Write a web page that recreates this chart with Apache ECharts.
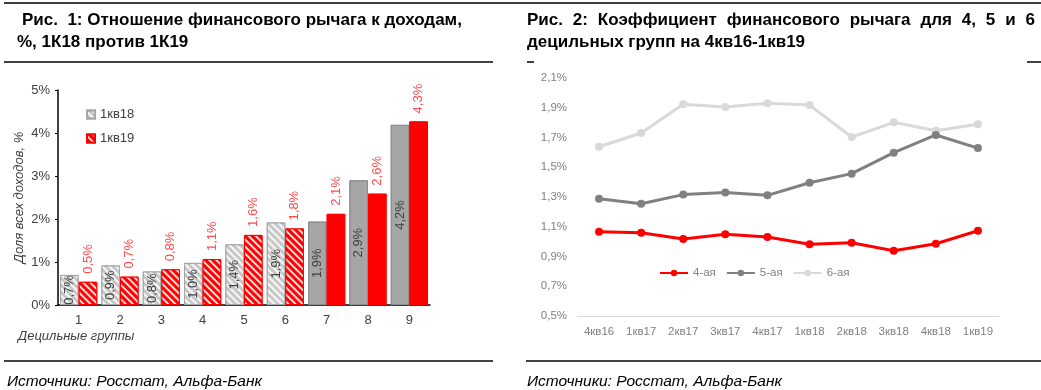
<!DOCTYPE html>
<html><head><meta charset="utf-8">
<script src="https://cdn.jsdelivr.net/npm/echarts@6/dist/echarts.min.js"></script>
<style>html,body{margin:0;padding:0;background:#fff}#c{width:1041px;height:390px}</style>
</head><body><div id="c"></div>
<script>
// ---- data ----
const deciles = ['1','2','3','4','5','6','7','8','9'];
const q1_18 = [0.70,0.92,0.78,0.98,1.41,1.92,1.94,2.90,4.19];
const q1_19 = [0.54,0.66,0.83,1.07,1.63,1.78,2.12,2.59,4.27];
const quarters = ['4кв16','1кв17','2кв17','3кв17','4кв17','1кв18','2кв18','3кв18','4кв18','1кв19'];
const dec4 = [1.067,1.060,1.018,1.049,1.031,0.982,0.993,0.939,0.986,1.073];
const dec5 = [1.289,1.255,1.316,1.331,1.311,1.396,1.457,1.598,1.717,1.629];
const dec6 = [1.638,1.730,1.923,1.905,1.930,1.918,1.703,1.802,1.746,1.789];
const title1a = 'Рис.  1: Отношение финансового рычага к доходам,';
const title1b = '%, 1К18 против 1К19';
const title2a = 'Рис. 2: Коэффициент финансового рычага для 4, 5 и 6';
const title2b = 'децильных групп на 4кв16-1кв19';
const source = 'Источники: Росстат, Альфа-Банк';

const FONT = '"Liberation Sans", Arial, sans-serif';
const ctx = document.createElement('canvas').getContext('2d');
function w(t, f){ ctx.font = f; return ctx.measureText(t).width; }
let ts = 16;
for (let s = 14; s <= 20; s += 0.25){ if (w(title1a, 'bold '+s+'px '+FONT) <= 445) ts = s; }
const tFont = 'bold '+ts+'px '+FONT;
const sFont = 'italic 15.5px '+FONT;

const fmt = v => v.toFixed(1).replace('.', ',') + '%';
const hatch = {symbol:'rect', symbolSize:1, dashArrayX:[1,0], dashArrayY:[2,2.5], rotation:Math.PI/4, color:'rgba(255,255,255,0.85)'};
const noHatch = {symbol:'rect', symbolSize:1, dashArrayX:[1,0], dashArrayY:[2,2.5], rotation:Math.PI/4, color:'rgba(255,255,255,0)'};

const graphics = [];
function line(x1,y1,x2,y2,lw){ graphics.push({type:'line', shape:{x1,y1,x2,y2}, style:{stroke:'#000', lineWidth:lw||1.5}, silent:true}); }
function text(t,x,y,font,fill){ graphics.push({type:'text', x, y, style:{text:t, font, fill:fill||'#000', textVerticalAlign:'middle', textAlign:'left'}, silent:true}); }
line(4,3,1041,3);
line(4,62,493,62);
line(527,62,534,62); line(1027,62,1041,62);
line(4,361,493,361); line(526,361,1041,361);
text(title1a, 22, 20, tFont);
text(title1b, 17, 42, tFont);
(function(){
  const words = title2a.split(' ');
  const total = words.reduce((a,b)=>a+w(b,tFont),0);
  const gap = (1035-527-total)/(words.length-1);
  let x = 527;
  words.forEach(wd => { text(wd, x, 20, tFont); x += w(wd,tFont)+gap; });
})();
text(title2b, 527, 42, tFont);
text(source, 7, 382, sFont);
text(source, 527, 382, sFont);
text('Децильные группы', 18, 336, 'italic 13px '+FONT, '#404040');

const axisTxt = {color:'#404040', fontSize:13, fontFamily:FONT};
const rTxt = {color:'#808080', fontSize:11.5, fontFamily:FONT};

const option = {
  animation:false,
  backgroundColor:'#fff',
  graphic: graphics,
  legend:[
    {data:['1кв18','1кв19'], orient:'vertical', left:86, top:108, padding:0, itemWidth:8, itemHeight:8, itemGap:11, textStyle:{color:'#404040', fontSize:13, fontFamily:FONT}, icon:'rect'},
    {data:['4-ая','5-ая','6-ая'], left:659, top:267, padding:0, itemWidth:28, itemHeight:8, itemGap:10, textStyle:{color:'#808080', fontSize:11.5, fontFamily:FONT}}
  ],
  grid:[
    {left:58, top:90, width:372, height:215},
    {left:578, top:78, width:421, height:238}
  ],
  xAxis:[
    {gridIndex:0, type:'category', data:deciles, axisLine:{lineStyle:{color:'#000', width:1.5}}, axisTick:{show:false}, axisLabel:Object.assign({margin:9}, axisTxt)},
    {gridIndex:1, type:'category', data:quarters, axisLine:{lineStyle:{color:'#d9d9d9', width:1}}, axisTick:{show:false}, axisLabel:Object.assign({margin:10}, rTxt)}
  ],
  yAxis:[
    {gridIndex:0, type:'value', min:0, max:5, interval:1, axisLine:{show:true, lineStyle:{color:'#000', width:1.5}}, axisTick:{show:true, length:3, lineStyle:{color:'#000'}}, splitLine:{show:false},
     axisLabel:Object.assign({margin:8, formatter:v=>v+'%'}, axisTxt),
     name:'Доля всех доходов, %', nameLocation:'middle', nameGap:32, nameRotate:90, nameTextStyle:{fontStyle:'italic', color:'#404040', fontSize:13, fontFamily:FONT}},
    {gridIndex:1, type:'value', min:0.5, max:2.1, interval:0.2, axisLine:{show:false}, axisTick:{show:false}, splitLine:{show:false},
     axisLabel:Object.assign({margin:11, formatter:fmt}, rTxt)}
  ],
  series:[
    {name:'1кв18', type:'bar', xAxisIndex:0, yAxisIndex:0, barGap:'0%', barCategoryGap:'10%',
     itemStyle:{color:'#c8c8c8', borderColor:'#a6a6a6', borderWidth:1, decal:hatch},
     data:q1_18.map((v,i)=> i<6 ? {value:v} : {value:v, itemStyle:{color:'#a6a6a6', borderColor:'#8c8c8c', decal:noHatch}}),
     label:{show:true, position:'inside', rotate:90, formatter:p=>fmt(p.value), color:'#404040', fontSize:13, fontFamily:FONT}},
    {name:'1кв19', type:'bar', xAxisIndex:0, yAxisIndex:0,
     itemStyle:{color:'#ff0000', borderColor:'#ff0000', borderWidth:1, decal:hatch},
     data:q1_19.map((v,i)=> i<6 ? {value:v} : {value:v, itemStyle:{decal:noHatch}}),
     label:{show:true, position:'top', rotate:90, align:'left', verticalAlign:'middle', distance:8, formatter:p=>fmt(p.value), color:'#ff4b4b', fontSize:13, fontFamily:FONT}},
    {name:'6-ая', type:'line', xAxisIndex:1, yAxisIndex:1, data:dec6, symbol:'circle', symbolSize:8, lineStyle:{width:3, color:'#d9d9d9'}, itemStyle:{color:'#d9d9d9'}, z:2},
    {name:'5-ая', type:'line', xAxisIndex:1, yAxisIndex:1, data:dec5, symbol:'circle', symbolSize:8, lineStyle:{width:3, color:'#808080'}, itemStyle:{color:'#808080'}, z:3},
    {name:'4-ая', type:'line', xAxisIndex:1, yAxisIndex:1, data:dec4, symbol:'circle', symbolSize:8, lineStyle:{width:3, color:'#ff0000'}, itemStyle:{color:'#ff0000'}, z:4}
  ]
};
const chart = echarts.init(document.getElementById('c'), null, {renderer:'canvas'});
chart.setOption(option);
</script>
</body></html>
